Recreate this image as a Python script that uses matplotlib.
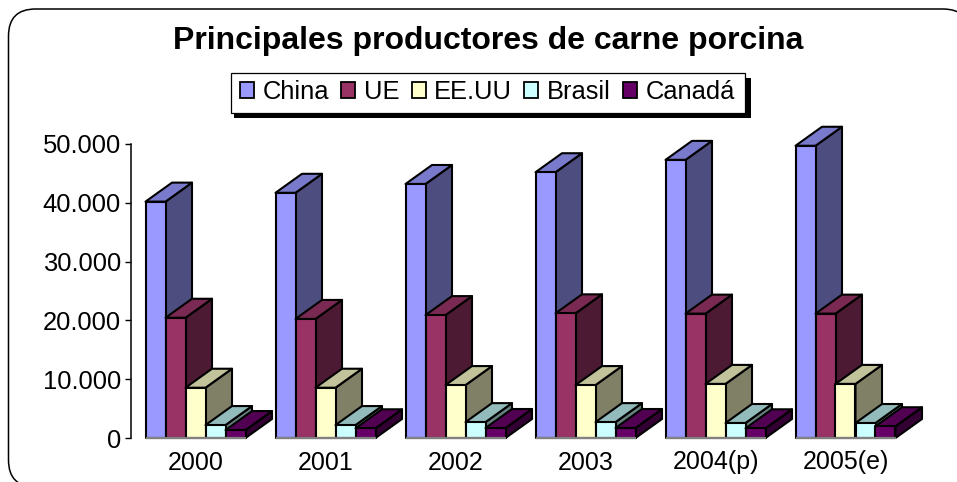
import numpy as np
import matplotlib
matplotlib.use('Agg')
import matplotlib.pyplot as plt
from matplotlib.patches import Polygon, Rectangle, FancyBboxPatch, Patch
from matplotlib.transforms import Affine2D

plt.rcParams['font.family'] = ['Liberation Sans', 'DejaVu Sans']

years = ['2000', '2001', '2002', '2003', '2004(p)', '2005(e)']
yticks = [0, 10000, 20000, 30000, 40000, 50000]
yticklabels = ['0', '10.000', '20.000', '30.000', '40.000', '50.000']
series_names = ['China', 'UE', 'EE.UU', 'Brasil', 'Canadá']
china = [40200, 41700, 43200, 45200, 47300, 49700]
ue = [20450, 20250, 20900, 21200, 21150, 21150]
eeuu = [8550, 8550, 9000, 9000, 9200, 9200]
brasil = [2200, 2200, 2700, 2700, 2550, 2550]
canada = [1350, 1650, 1700, 1700, 1650, 2000]
series = [china, ue, eeuu, brasil, canada]

front_colors = ['#9999FF', '#993366', '#FFFFCC', '#CCFFFF', '#660066']
top_colors = ['#7A7ACC', '#7A2952', '#C2C29B', '#93BBBB', '#520052']
side_colors = ['#4D4D80', '#4D1A33', '#808066', '#668080', '#330033']

W, H = 957, 482
fig = plt.figure(figsize=(W / 100, H / 100), dpi=100)
# pixel coordinates, y going down, for the frame and the legend box
px = Affine2D().scale(1 / 100, -1 / 100).translate(0, H / 100) + fig.dpi_scale_trans

fig.add_artist(FancyBboxPatch((8.5 + 27, 9 + 27), 970 - 8.5 - 54, 487 - 9 - 54,
                              boxstyle='round,pad=27,rounding_size=27', transform=px,
                              facecolor='white', edgecolor='black', linewidth=1.1, zorder=-2))

ax = fig.add_axes([130.5 / W, 1 - 438 / H, 780 / W, 294 / H])
ax.set_xlim(-0.5, 5.5)
ax.set_ylim(0, 50000)
ax.patch.set_visible(False)

bar_w = 20 / 130
depth_x = 26.5 / 130
depth_y = 19 / 294 * 50000
edge = dict(edgecolor='black', linewidth=1.5, joinstyle='round', clip_on=False)

x = np.arange(len(years))
for i, vals in enumerate(series):
    pos = x - 2.5 * bar_w + i * bar_w
    ax.bar(pos, vals, width=bar_w, align='edge', color=front_colors[i], zorder=3 + 3 * i + 2, **edge)
    for p, v in zip(pos, vals):
        r = p + bar_w
        ax.add_patch(Polygon([(r, 0), (r + depth_x, depth_y), (r + depth_x, v + depth_y), (r, v)],
                             facecolor=side_colors[i], zorder=3 + 3 * i, **edge))
        ax.add_patch(Polygon([(p, v), (p + depth_x, v + depth_y), (r + depth_x, v + depth_y), (r, v)],
                             facecolor=top_colors[i], zorder=3 + 3 * i + 1, **edge))

# grey floor line under each group
for c in x:
    ax.plot([c - 2.5 * bar_w, c + 2.5 * bar_w], [0, 0], color='#808080', lw=1.6,
            solid_capstyle='butt', clip_on=False, zorder=30)

for s in ['top', 'right', 'bottom']:
    ax.spines[s].set_visible(False)
ax.spines['left'].set_linewidth(1.1)
ax.set_xticks(x)
ax.set_xticklabels(years, fontsize=18)
ax.tick_params(axis='x', length=0, pad=9)
ax.set_yticks(yticks)
ax.set_yticklabels(yticklabels, fontsize=18.4)
ax.tick_params(axis='y', length=4.5, width=1, pad=2.5)

fig.text(488 / W, 1 - 41 / H, 'Principales productores de carne porcina', fontsize=23,
         fontweight='bold', ha='center', va='center')

# legend box with hard shadow
fig.add_artist(Rectangle((234, 78), 517, 40, transform=px, facecolor='black', edgecolor='black', lw=0, zorder=-1))
fig.add_artist(Rectangle((230.5, 72.5), 514.5, 40, transform=px, facecolor='white', edgecolor='black', lw=0.9, zorder=-1))
handles = [Patch(facecolor=c, edgecolor='black', linewidth=1.3) for c in front_colors]
fig.legend(handles, series_names, loc='center', bbox_to_anchor=(487.5 / W, 1 - 92 / H), ncol=5,
           frameon=False, fontsize=18.4, handlelength=0.55, handleheight=0.55,
           handletextpad=0.34, columnspacing=0.47, borderpad=0, borderaxespad=0)

fig.savefig('out.png', dpi=100)
